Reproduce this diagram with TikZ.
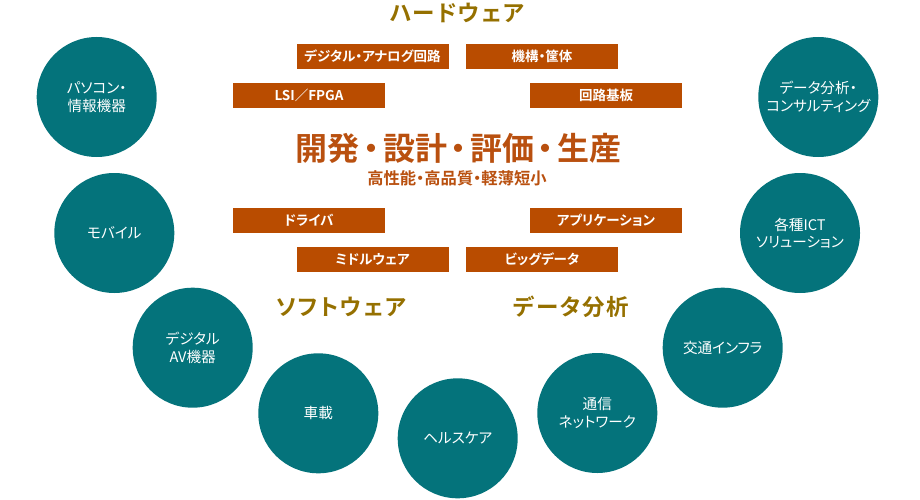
\documentclass[tikz,border=0pt]{standalone}
\usepackage{fontspec}
\setmainfont{Noto Sans CJK JP}[BoldFont={Noto Sans CJK JP Bold},RawFeature=+palt]
\newfontfamily\hdfont{Noto Sans CJK JP}[BoldFont={Noto Sans CJK JP Bold},RawFeature=+palt,LetterSpace=8]

\definecolor{appteal}{HTML}{04737B}
\definecolor{boxbrown}{HTML}{B94C00}
\definecolor{titlebrown}{HTML}{B9500F}
\definecolor{hdgold}{HTML}{957000}

\newcommand{\tdot}{\hspace{.11em}・\hspace{.11em}}

\tikzset{
	appnode/.style={circle, fill=appteal, minimum size=120pt, inner sep=0pt, text=white, align=center, font=\fontsize{14.6}{17.5}\selectfont},
	techbox/.style={rectangle, fill=boxbrown, minimum width=152pt, minimum height=25pt, inner sep=0pt, text=white, font=\fontsize{13.5}{16}\selectfont\bfseries},
	areahead/.style={inner sep=0pt, text=hdgold, font=\fontsize{22.5}{26}\selectfont\hdfont\bfseries},
	maintitle/.style={inner sep=0pt, text=titlebrown, font=\fontsize{32}{36}\selectfont\bfseries},
	subtitle/.style={inner sep=0pt, text=titlebrown, font=\fontsize{16.3}{19}\selectfont\bfseries},
}

\newcommand{\appcircle}[4]{
	\node[appnode] (#1) at (#2, #3) {#4};
}
\newcommand{\techitem}[4]{
	\node[techbox] (#1) at (#2, #3) {#4};
}

\begin{document}
\begin{tikzpicture}[x=1pt, y=-1pt]
\useasboundingbox (0,0) rectangle (920,500);

\pgfmathsetmacro{\bxOut}{309}
\pgfmathsetmacro{\bxIn}{372.5}
\pgfmathsetmacro{\bxInR}{542}
\pgfmathsetmacro{\bxOutR}{606}
\pgfmathsetmacro{\byA}{56.5}
\pgfmathsetmacro{\byB}{95.8}
\pgfmathsetmacro{\byC}{220.5}
\pgfmathsetmacro{\byD}{259.7}

\node[areahead] (hard) at (457, 13) {ハードウェア};
\node[areahead] (soft) at (341, 307) {ソフトウェア};
\node[areahead] (data) at (571.5, 307) {データ分析};

\techitem{circuit}{\bxIn}{\byA}{デジタル・アナログ回路}
\techitem{mech}{\bxInR}{\byA}{機構・筐体}
\techitem{lsi}{\bxOut}{\byB}{LSI／FPGA}
\techitem{board}{\bxOutR}{\byB}{回路基板}
\techitem{driver}{\bxOut}{\byC}{ドライバ}
\techitem{appli}{\bxOutR}{\byC}{アプリケーション}
\techitem{middle}{\bxIn}{\byD}{ミドルウェア}
\techitem{bigdata}{\bxInR}{\byD}{ビッグデータ}

\node[maintitle] (title) at (458.5, 148) {開発\tdot 設計\tdot 評価\tdot 生産};
\node[subtitle] (sub) at (457, 178) {高性能・高品質・軽薄短小};

\appcircle{pc}{96.7}{97}{パソコン・\\情報機器}
\appcircle{mobile}{114.3}{233}{モバイル}
\appcircle{av}{192.7}{347.7}{デジタル\\AV機器}
\appcircle{car}{318.3}{413.3}{車載}
\appcircle{health}{457.7}{438.3}{ヘルスケア}
\appcircle{network}{597.3}{413}{通信\\ネットワーク}
\appcircle{traffic}{722.7}{347.7}{交通インフラ}
\appcircle{ict}{800}{233}{各種ICT\\ソリューション}
\appcircle{consult}{818.3}{97}{データ分析・\\コンサルティング}
\end{tikzpicture}
\end{document}
